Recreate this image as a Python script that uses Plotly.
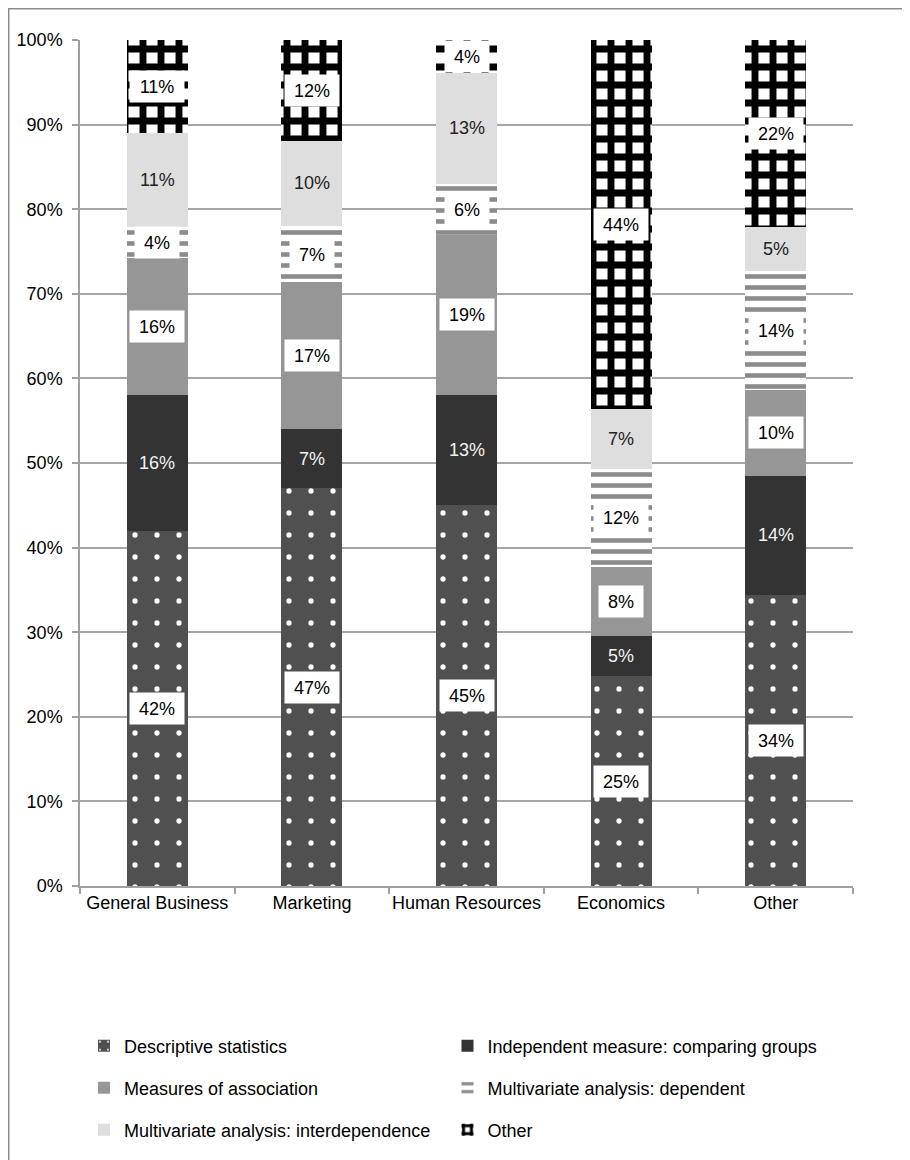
import plotly.graph_objects as go

categories = ["General Business", "Marketing", "Human Resources", "Economics", "Other"]
series_names = [
    "Descriptive statistics",
    "Independent measure: comparing groups",
    "Measures of association",
    "Multivariate analysis: dependent",
    "Multivariate analysis: interdependence",
    "Other",
]
descriptive = [42.0, 47.0, 45.0, 24.8, 34.4]
independent = [16.0, 7.0, 13.0, 4.8, 14.1]
association = [16.2, 17.4, 19.0, 8.1, 10.1]
mv_dependent = [3.7, 6.6, 6.0, 11.6, 14.1]
mv_interdep = [11.1, 10.1, 13.1, 7.1, 5.2]
other = [11.0, 11.9, 3.9, 43.6, 22.1]
y_ticks = [0, 10, 20, 30, 40, 50, 60, 70, 80, 90, 100]
y_tick_labels = [f"{v}%" for v in y_ticks]

series_values = [descriptive, independent, association, mv_dependent, mv_interdep, other]

FONT = "Liberation Sans, Arial, sans-serif"

styles = [
    dict(color="#505050", pattern=dict(shape=".", fgcolor="#ffffff", bgcolor="#505050",
                                       size=22, solidity=0.045, fgopacity=1, fillmode="overlay")),
    dict(color="#333333"),
    dict(color="#969696"),
    dict(color="#ffffff", pattern=dict(shape="-", fgcolor="#8c8c8c", bgcolor="#ffffff",
                                       size=11, solidity=0.42, fgopacity=1, fillmode="overlay")),
    dict(color="#dedede"),
    dict(color="#ffffff", pattern=dict(shape="+", fgcolor="#000000", bgcolor="#ffffff",
                                       size=18, solidity=0.62, fgopacity=1, fillmode="overlay")),
]
# one legend per entry: (legend id, page-x of legend, page-y of row centre)
legend_ids = ["legend", "legend2", "legend3", "legend4", "legend5", "legend6"]
legend_px = [84, 447.5, 84, 447.5, 84, 447.5]
legend_py = [1046, 1046, 1088, 1088, 1130, 1130]
label_box = [True, False, True, True, False, True]
label_color = ["#000000", "#f2f2f2", "#000000", "#000000", "#222222", "#000000"]

fig = go.Figure()
for name, vals, st, lg in zip(series_names, series_values, styles, legend_ids):
    marker = dict(color=st["color"], line=dict(width=0))
    if "pattern" in st:
        marker["pattern"] = st["pattern"]
    fig.add_trace(go.Bar(
        x=categories, y=vals, name=name, marker=marker, width=0.395,
        legend=lg, hoverinfo="skip", showlegend=True,
    ))

# data labels at segment midpoints
annotations = []
base = [0.0] * len(categories)
for si, vals in enumerate(series_values):
    for ci, v in enumerate(vals):
        mid = base[ci] + v / 2.0
        txt = f"{v:.0f}%"
        ann = dict(x=categories[ci], y=mid, xref="x", yref="y", text=txt,
                   showarrow=False,
                   font=dict(family=FONT, size=18, color=label_color[si]))
        if label_box[si]:
            ndig = len(txt) - 1
            ann.update(bgcolor="#ffffff", width=18 * (0.556 * ndig + 0.889) + 18,
                       height=31, borderpad=0)
        annotations.append(ann)
        base[ci] += v

# page has an 8px body margin; work in page pixels and convert
OFF = 8
W, H = 902, 1152
L, R, T, B = 80 - OFF, W - (853 - OFF), 40 - OFF, H - (886 - OFF)
pw, ph = W - L - R, H - T - B

def px_x(p):
    return (p - OFF - L) / pw

def px_y(p):
    return (H - B - (p - OFF)) / ph

shapes = [dict(type="rect", xref="paper", yref="paper",
               x0=px_x(8.7), x1=px_x(905), y0=px_y(1175), y1=px_y(8.7),
               line=dict(color="#8c8c8c", width=1.5), fillcolor="rgba(0,0,0,0)",
               layer="below")]

legends = {}
for lg, lx, ly in zip(legend_ids, legend_px, legend_py):
    legends[lg] = dict(x=px_x(lx), y=px_y(ly), xanchor="left", yanchor="middle",
                       orientation="v",
                       font=dict(family=FONT, size=18, color="#000000"),
                       bgcolor="rgba(0,0,0,0)", itemwidth=30)

fig.update_layout(
    width=W, height=H,
    margin=dict(l=L, r=R, t=T, b=B, autoexpand=False),
    barmode="stack",
    showlegend=True,
    plot_bgcolor="#ffffff", paper_bgcolor="#ffffff",
    font=dict(family=FONT, size=18, color="#000000"),
    annotations=annotations,
    shapes=shapes,
    xaxis=dict(
        showline=True, linecolor="#a0a0a0", linewidth=1.5,
        ticks="outside", ticklen=6, tickcolor="#a0a0a0", tickwidth=1.5,
        tickson="boundaries", showgrid=False, tickangle=0,
        tickfont=dict(family=FONT, size=18, color="#000000"),
    ),
    yaxis=dict(
        range=[0, 100], tickvals=y_ticks, ticktext=y_tick_labels,
        showline=True, linecolor="#a0a0a0", linewidth=1.5,
        ticks="outside", ticklen=6, tickcolor="#a0a0a0", tickwidth=1.5,
        showgrid=True, gridcolor="#a6a6a6", gridwidth=1.5,
        zeroline=False, ticklabelstandoff=6,
        tickfont=dict(family=FONT, size=18, color="#000000"),
    ),
    **legends,
)

fig.write_html("out.html")
